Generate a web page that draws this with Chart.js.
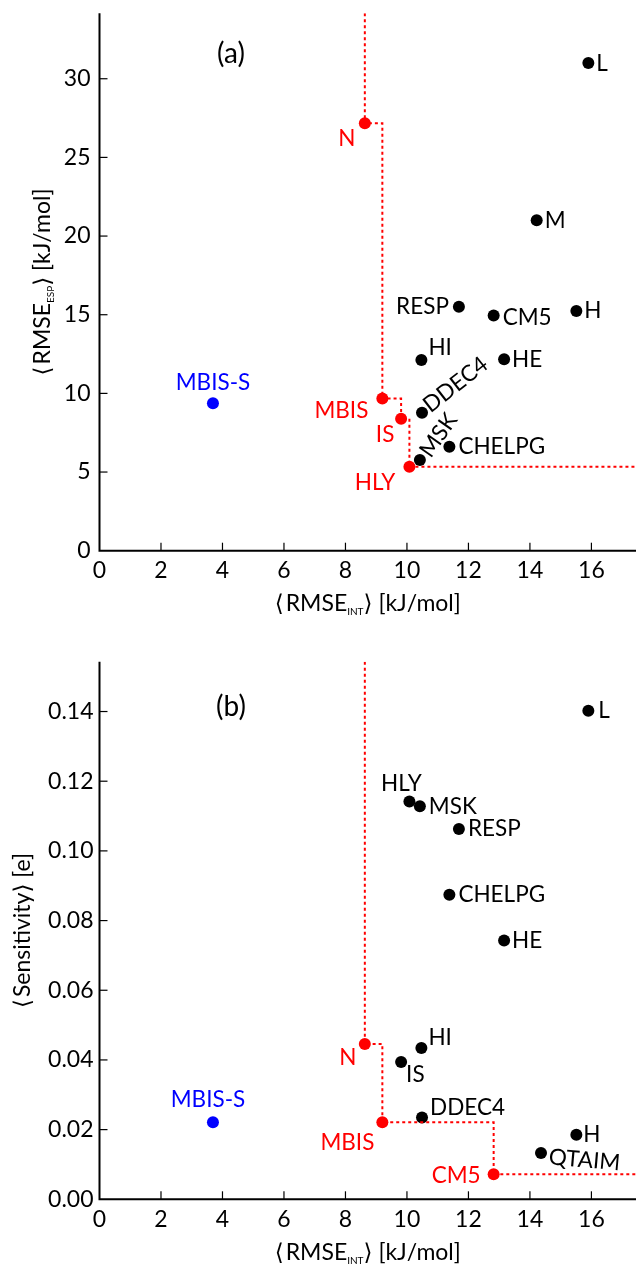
<!DOCTYPE html>
<html><head><meta charset="utf-8">
<script src="https://cdn.jsdelivr.net/npm/chart.js@4.4.0/dist/chart.umd.min.js"></script>
<style>
html,body{margin:0;padding:0;background:#fff;}
#wrap{position:relative;width:642px;height:1266px;overflow:hidden;}
.panel{position:absolute;left:0;width:642px;height:633px;}
canvas{display:block;}
</style></head>
<body><div id="wrap">
<div class="panel" style="top:0"><canvas id="ca" width="642" height="633"></canvas></div>
<div class="panel" style="top:633px"><canvas id="cb" width="642" height="633"></canvas></div>
</div>
<script>
// ---------------- data ----------------
const methods     = ['N', 'MBIS-S', 'MBIS', 'IS', 'HLY', 'MSK', 'DDEC4', 'HI', 'CHELPG', 'RESP', 'CM5', 'HE', 'M', 'QTAIM', 'H', 'L'];
const rmseInt     = [8.63, 3.69, 9.20, 9.81, 10.08, 10.42, 10.49, 10.47, 11.38, 11.69, 12.82, 13.16, 14.22, 14.36, 15.51, 15.90];
const rmseEsp     = [27.17, 9.37, 9.67, 8.39, 5.34, 5.77, 8.77, 12.12, 6.61, 15.5, 14.95, 12.17, 21.0, null, 15.24, 31.0];
const sensitivity = [0.0446, 0.0221, 0.0221, 0.0394, 0.1142, 0.1128, 0.0235, 0.0434, 0.0874, 0.1063, 0.0072, 0.0743, null, 0.0133, 0.0185, 0.1402];
const paretoEsp   = ['N', 'MBIS', 'IS', 'HLY'];
const paretoSens  = ['N', 'MBIS', 'CM5'];
const referenceMethod = 'MBIS-S';
const xTicks    = [0, 2, 4, 6, 8, 10, 12, 14, 16];
const espTicks  = [0, 5, 10, 15, 20, 25, 30];
const sensTicks = [0, 0.02, 0.04, 0.06, 0.08, 0.10, 0.12, 0.14];
const xMax = 17.45, espMax = 34.16, sensMax = 0.1543;

// ---------------- styling / layout ----------------
const FONT = 'Lato, "Open Sans", "DejaVu Sans", sans-serif';
const BRACKET_FONT = '"DejaVu Sans", sans-serif';
const RED = '#ff0000', BLUE = '#0000ff', BLACK = '#000000';
const TICK_SIZE = 23, LABEL_SIZE = 22.5, TITLE_SIZE = 23, SUB_SIZE = 10, LETTER_SIZE = 28;

// label placement: [dx, dy, align, rotationDeg]
const labelsA = {
  'L': [8, 1, 'left', 0], 'N': [-18, 15, 'center', 0], 'M': [8, 0, 'left', 0],
  'RESP': [-10, 0, 'right', 0], 'CM5': [9, 2, 'left', 0], 'H': [8, 0, 'left', 0],
  'HI': [7, -12, 'left', 0], 'HE': [8, 1, 'left', 0], 'MBIS-S': [0, -21, 'center', 0],
  'MBIS': [-14, 12, 'right', 0], 'DDEC4': [4, -5, 'left', -38], 'IS': [-16, 16, 'center', 0],
  'CHELPG': [9, 0, 'left', 0], 'MSK': [5, -5, 'left', -55], 'HLY': [-14, 16, 'right', 0]
};
const labelsB = {
  'L': [10, 0, 'left', 0], 'HLY': [-8, -18, 'center', 0], 'MSK': [9, 0, 'left', 0],
  'RESP': [9, 0, 'left', 0], 'CHELPG': [9, 0, 'left', 0], 'HE': [8, 0, 'left', 0],
  'N': [-17, 14, 'center', 0], 'HI': [7, -10, 'left', 0], 'IS': [5, 13, 'left', 0],
  'MBIS-S': [-5, -23, 'center', 0], 'DDEC4': [8, -10, 'left', 0], 'MBIS': [-8, 20, 'right', 0],
  'H': [7, 0, 'left', 0], 'QTAIM': [8, 4, 'left', 5], 'CM5': [-13, 2, 'right', 0]
};

function buildPoints(yArr) {
  const pts = [];
  methods.forEach((m, i) => { if (yArr[i] !== null) pts.push({x: rmseInt[i], y: yArr[i], name: m}); });
  return pts;
}
function buildFront(yArr, front, yMaxV) {
  const f = front.map(m => { const i = methods.indexOf(m); return {x: rmseInt[i], y: yArr[i]}; });
  return [{x: f[0].x, y: yMaxV}, ...f, {x: xMax, y: f[f.length - 1].y}];
}
function colorOf(name, front) {
  if (name === referenceMethod) return BLUE;
  if (front.includes(name)) return RED;
  return BLACK;
}

// text whose cap-centre sits at (cx, cy) in its rotated frame
function drawRich(ctx, parts, cx, cy, rot) {
  ctx.save();
  ctx.translate(cx, cy);
  ctx.rotate(rot);
  ctx.textBaseline = 'alphabetic';
  ctx.textAlign = 'left';
  let total = 0;
  const fontOf = p => p.size + 'px ' + (p.family || FONT);
  parts.forEach(p => { ctx.font = fontOf(p); p.w = ctx.measureText(p.t).width + (p.gap || 0); total += p.w; });
  let x = -total / 2;
  const base = 0.36 * TITLE_SIZE;
  parts.forEach(p => { ctx.font = fontOf(p); ctx.fillStyle = BLACK; ctx.fillText(p.t, x, base + (p.dy || 0)); x += p.w; });
  ctx.restore();
}
function titleParts(main, sub) {
  const parts = [{t: '\u27E8', size: TITLE_SIZE, family: BRACKET_FONT, gap: 2}, {t: main, size: TITLE_SIZE}];
  if (sub) parts.push({t: sub, size: SUB_SIZE, dy: 4});
  parts.push({t: '\u27E9', size: TITLE_SIZE, family: BRACKET_FONT, gap: 0});
  return parts;
}

function makeChart(id, yArr, front, yTicksArr, yMaxV, opts) {
  const pts = buildPoints(yArr);
  const labels = opts.labels;
  const overlay = {
    id: 'overlay',
    afterDraw(chart) {
      const ctx = chart.ctx, xs = chart.scales.x, ys = chart.scales.y, a = chart.chartArea;
      ctx.save();
      // axes
      ctx.strokeStyle = BLACK; ctx.lineWidth = 2;
      ctx.beginPath(); ctx.moveTo(a.left, a.top); ctx.lineTo(a.left, a.bottom); ctx.lineTo(a.right, a.bottom); ctx.stroke();
      // inward ticks
      ctx.lineWidth = 1.2;
      xs.ticks.forEach(t => { const px = xs.getPixelForValue(t.value); if (px <= a.left + 1) return; ctx.beginPath(); ctx.moveTo(px, a.bottom); ctx.lineTo(px, a.bottom - 8); ctx.stroke(); });
      ys.ticks.forEach(t => { const py = ys.getPixelForValue(t.value); if (py >= a.bottom - 1) return; ctx.beginPath(); ctx.moveTo(a.left, py); ctx.lineTo(a.left + 8, py); ctx.stroke(); });
      // point labels
      ctx.font = LABEL_SIZE + 'px ' + FONT;
      ctx.textBaseline = 'middle';
      pts.forEach(p => {
        const L = labels[p.name]; if (!L) return;
        const px = xs.getPixelForValue(p.x), py = ys.getPixelForValue(p.y);
        ctx.save();
        ctx.translate(px + L[0], py + L[1]);
        ctx.rotate(L[3] * Math.PI / 180);
        ctx.textAlign = L[2];
        ctx.fillStyle = colorOf(p.name, front);
        ctx.fillText(p.name, 0, 0);
        ctx.restore();
      });
      // panel letter
      ctx.font = LETTER_SIZE + 'px ' + FONT; ctx.fillStyle = BLACK; ctx.textAlign = 'center'; ctx.textBaseline = 'middle';
      ctx.fillText(opts.letter, 231, a.top + opts.letterDy);
      ctx.restore();
      // axis titles
      drawRich(ctx, opts.yTitle, opts.yTitleX, (a.top + a.bottom) / 2, -Math.PI / 2);
      drawRich(ctx, [...titleParts('RMSE', 'INT'), {t: ' [kJ/mol]', size: TITLE_SIZE}], (a.left + a.right) / 2, a.bottom + 52.5, 0);
    }
  };
  return new Chart(document.getElementById(id), {
    type: 'scatter',
    data: {
      datasets: [
        {
          data: buildFront(yArr, front, yMaxV), showLine: true, stepped: 'before',
          borderColor: RED, borderWidth: 2, borderDash: [3, 3], pointRadius: 0, fill: false
        },
        {
          data: pts, pointRadius: 6, pointBorderWidth: 0,
          pointBackgroundColor: pts.map(p => colorOf(p.name, front)),
          pointBorderColor: pts.map(p => colorOf(p.name, front))
        }
      ]
    },
    options: {
      responsive: false, animation: false, events: [],
      layout: {padding: {top: opts.padTop, left: 0, right: 0, bottom: 0}},
      plugins: {legend: {display: false}, tooltip: {enabled: false}},
      scales: {
        x: {
          type: 'linear', min: 0, max: xMax,
          grid: {display: false, drawTicks: false}, border: {display: false},
          afterBuildTicks: s => { s.ticks = xTicks.map(v => ({value: v})); },
          afterFit: s => { s.height = opts.xHeight; s.paddingLeft = 0; s.paddingRight = 0; },
          ticks: {color: BLACK, font: {family: FONT, size: TICK_SIZE}, padding: 6, maxRotation: 0, autoSkip: false, callback: v => String(v)}
        },
        y: {
          type: 'linear', min: 0, max: yMaxV,
          grid: {display: false, drawTicks: false}, border: {display: false},
          afterBuildTicks: s => { s.ticks = yTicksArr.map(v => ({value: v})); },
          afterFit: s => { s.width = 99.5; s.paddingTop = 0; s.paddingBottom = 0; },
          ticks: {color: BLACK, font: {family: FONT, size: TICK_SIZE}, padding: opts.yPad, autoSkip: false, callback: opts.yFmt}
        }
      }
    },
    plugins: [overlay]
  });
}

makeChart('ca', rmseEsp, paretoEsp, espTicks, espMax, {
  labels: labelsA, letter: '(a)', letterDy: 41, padTop: 13.3, xHeight: 633 - 550.7, yPad: 9,
  yTitleX: 41.5, yFmt: v => String(v),
  yTitle: [...titleParts('RMSE', 'ESP'), {t: ' [kJ/mol]', size: TITLE_SIZE}]
});
makeChart('cb', sensitivity, paretoSens, sensTicks, sensMax, {
  labels: labelsB, letter: '(b)', letterDy: 45, padTop: 661.7 - 633, xHeight: 633 - 566.3, yPad: 6,
  yTitleX: 22, yFmt: v => v.toFixed(2),
  yTitle: [...titleParts('Sensitivity', null), {t: ' [e]', size: TITLE_SIZE}]
});
</script>
</body></html>
